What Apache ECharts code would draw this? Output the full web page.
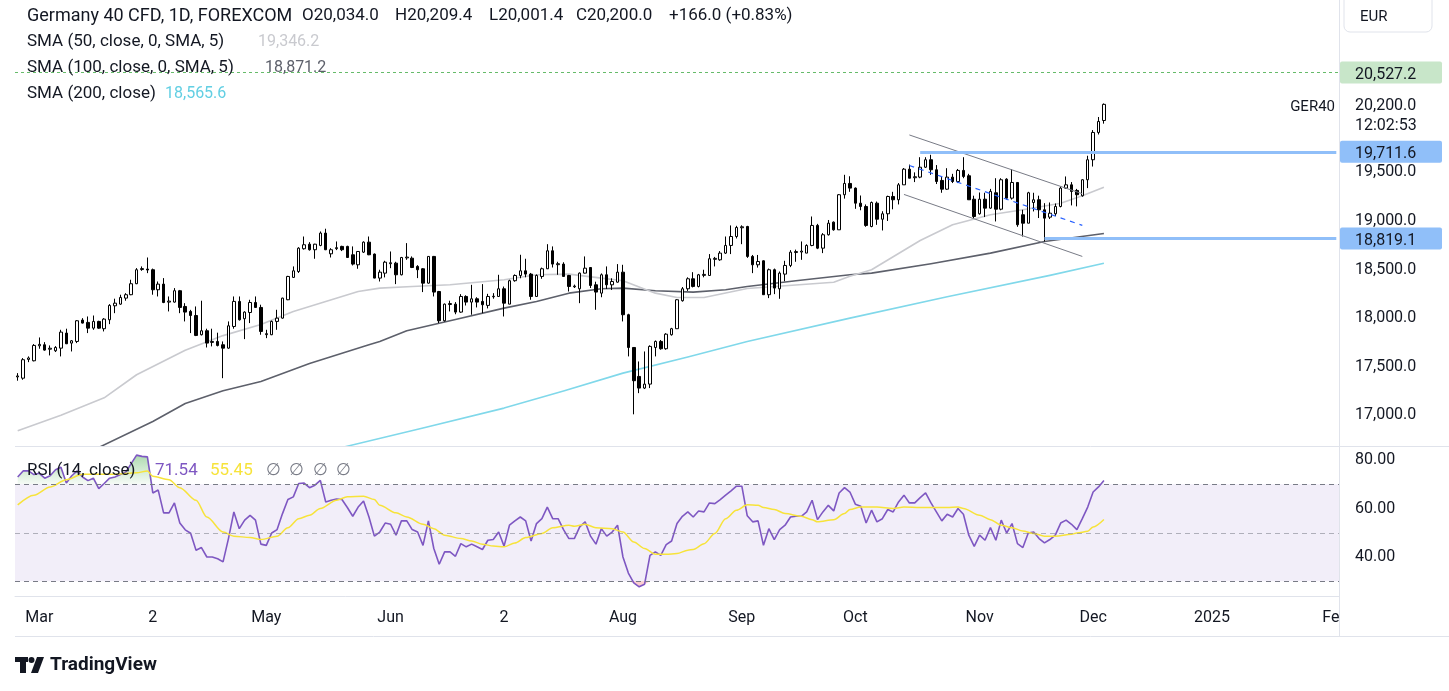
<!DOCTYPE html>
<html>
<head>
<meta charset="utf-8">
<script src="https://cdn.jsdelivr.net/npm/echarts/dist/echarts.min.js"></script>
<style>
  html, body { margin: 0; padding: 0; background: #ffffff; }
  #chart { width: 1449px; height: 691px; }
</style>
</head>
<body>
<div id="chart"></div>
<script>
// ---------------- DATA ----------------
// Daily candles, [open, high, low, close], Feb 26 2024 .. Dec 4 2024
const ohlc = [
[17395,17434,17356,17405],[17382,17589,17366,17572],[17575,17606,17547,17590],[17561,17733,17555,17719],
[17715,17801,17685,17730],[17726,17753,17665,17671],[17680,17719,17616,17690],[17664,17712,17651,17698],
[17691,17880,17606,17856],[17846,17891,17733,17736],[17743,17775,17657,17767],[17760,17980,17743,17973],
[17980,18000,17945,17949],[17956,18017,17846,17897],[17897,18027,17880,17966],[17966,17973,17890,17897],
[17891,18000,17863,17990],[17983,18144,17938,18131],[18127,18200,18051,18154],[18144,18241,18137,18213],
[18206,18257,18179,18241],[18241,18395,18236,18354],[18354,18515,18350,18498],[18500,18532,18487,18510],
[18505,18624,18463,18495],[18498,18510,18241,18292],[18292,18377,18223,18350],[18350,18412,18154,18161],
[18165,18223,18069,18175],[18165,18309,18160,18282],[18282,18290,18051,18110],[18120,18154,17966,18062],
[18069,18085,17846,18027],[18027,18120,17815,17822],[17829,18179,17822,17870],[17870,17891,17698,17743],
[17750,17891,17709,17760],[17760,17850,17709,17719],[17726,17760,17382,17691],[17691,17966,17685,17921],
[17914,18223,17891,18172],[18172,18223,17975,17983],[17994,18070,17784,18062],[18058,18189,17949,18161],
[18161,18223,18105,18110],[18110,18138,17829,17863],[17830,17880,17794,17840],[17829,17975,17825,17966],
[17966,18086,17880,18000],[18000,18210,17995,18206],[18189,18435,18185,18429],[18419,18532,18415,18487],
[18480,18730,18465,18720],[18714,18840,18705,18755],[18761,18782,18695,18704],[18704,18765,18611,18761],
[18748,18892,18740,18875],[18875,18920,18700,18704],[18662,18720,18624,18704],[18715,18789,18700,18725],
[18738,18745,18690,18704],[18738,18745,18620,18624],[18652,18738,18542,18556],[18549,18690,18508,18686],
[18679,18790,18670,18782],[18782,18840,18648,18652],[18659,18665,18410,18412],[18412,18498,18377,18473],
[18463,18590,18419,18576],[18560,18686,18514,18570],[18566,18580,18350,18446],[18446,18630,18440,18624],
[18620,18772,18600,18628],[18617,18635,18515,18521],[18532,18545,18412,18498],[18508,18515,18268,18360],
[18360,18635,18355,18635],[18635,18640,18223,18268],[18274,18280,17949,17973],[17973,18150,17965,18144],
[18140,18179,18069,18150],[18144,18165,18040,18062],[18062,18247,18055,18223],[18223,18235,18130,18165],
[18165,18343,18035,18199],[18199,18215,18110,18165],[18172,18350,18051,18138],[18131,18250,18100,18223],
[18220,18257,18200,18225],[18223,18446,18220,18302],[18302,18325,18017,18154],[18144,18395,18144,18385],
[18385,18450,18375,18439],[18439,18652,18410,18487],[18487,18611,18420,18453],[18453,18465,18189,18223],
[18223,18450,18223,18439],[18429,18520,18405,18508],[18508,18761,18505,18693],[18693,18738,18521,18556],
[18550,18580,18446,18560],[18556,18575,18429,18429],[18439,18445,18274,18326],[18322,18345,18310,18330],
[18302,18470,18154,18463],[18463,18635,18460,18514],[18521,18525,18310,18336],[18343,18375,18086,18268],
[18257,18460,18215,18446],[18446,18532,18300,18343],[18343,18410,18290,18377],[18370,18556,18365,18473],
[18473,18549,17966,18035],[18035,18045,17606,17698],[17698,17700,17010,17356],[17400,17554,17228,17280],
[17280,17657,17270,17321],[17321,17720,17280,17709],[17698,17770,17606,17760],[17760,17775,17675,17685],
[17685,17845,17675,17835],[17829,17900,17820,17891],[17891,18195,17891,18189],[18179,18320,18170,18302],
[18302,18420,18280,18405],[18405,18473,18316,18326],[18326,18455,18316,18446],[18440,18498,18420,18450],
[18439,18659,18439,18611],[18605,18630,18532,18615],[18600,18690,18590,18669],[18669,18840,18660,18748],
[18748,18954,18659,18840],[18840,18950,18820,18933],[18930,18955,18761,18940],[18943,18950,18620,18635],
[18635,18650,18463,18549],[18549,18650,18520,18583],[18590,18595,18241,18241],[18241,18510,18206,18498],
[18498,18510,18247,18309],[18302,18480,18199,18463],[18453,18590,18380,18542],[18542,18700,18525,18679],
[18675,18705,18580,18685],[18680,18789,18600,18690],[18669,18760,18669,18748],[18748,19046,18740,18954],
[18954,18970,18710,18720],[18720,18875,18669,18858],[18858,19010,18850,18977],[18988,18995,18900,18909],
[18909,19277,18909,19270],[19270,19475,19230,19386],[19386,19460,19300,19338],[19338,19345,19125,19183],
[19183,19262,19110,19149],[19149,19170,18940,18954],[18943,19200,18935,19190],[19183,19200,18960,19018],
[19018,19100,18902,19074],[19074,19260,19000,19252],[19252,19300,19120,19218],[19218,19390,19170,19372],
[19372,19545,19372,19533],[19533,19580,19440,19440],[19445,19500,19400,19455],[19451,19656,19440,19553],
[19553,19656,19545,19630],[19630,19681,19475,19527],[19527,19575,19380,19406],[19417,19460,19290,19327],
[19327,19543,19320,19451],[19451,19485,19390,19406],[19406,19535,19390,19520],[19520,19656,19440,19458],
[19465,19485,19218,19218],[19224,19260,19029,19046],[19074,19293,19065,19224],[19224,19290,19040,19132],
[19132,19330,19125,19304],[19290,19440,18995,19121],[19121,19440,19110,19424],[19430,19440,19220,19235],
[19235,19533,19220,19396],[19396,19400,18940,18961],[19064,19115,18840,18977],[18977,19300,18977,19290],
[19190,19290,19098,19218],[19218,19260,19030,19115],[19115,19183,18789,19029],[19039,19190,19020,19080],
[19074,19180,19050,19149],[19149,19355,19140,19338],[19338,19458,19330,19372],[19372,19400,19160,19304],
[19314,19330,19150,19270],[19259,19430,19250,19424],[19424,19671,19338,19630],[19630,19935,19560,19911],
[19911,20070,19890,20024],[20034,20209.4,20001.4,20200]
];

// RSI(14) per bar
const rsi = [
73,75.5,75.5,74,74.5,72.5,73.5,76,77,70.5,73.5,75.5,73,71.5,72.5,68.2,70.3,72.5,73,74,
75,78.5,82,81.5,81.3,66.4,67.6,58.2,58.2,62.3,54,51.2,49.8,42.8,43.9,40,40,39.3,38,47.6,
58.6,51.7,55.2,57.2,55.2,45.3,44.8,49.9,51.3,57.9,63.7,64.8,70.3,70.5,68.6,69.6,71.6,62.7,63.4,63.9,
63.7,60.4,56.8,60.6,63.1,56.5,48.6,50.3,54,53.5,49,54.9,54.9,51.3,50.3,44.8,54.9,43.5,37,42.1,
42.1,40.3,45.5,44.2,45.3,44.2,43.1,46.9,47.2,50.3,44.5,53.1,54.9,56.5,54.9,46.6,53.8,55.8,60.6,55.8,
55.8,51.3,47.6,47.6,52.4,54.5,48.6,45.3,51.7,48.6,50.3,53.1,40,33.4,29.3,27.7,28.8,40.7,42.1,40.7,
45.1,46.6,53.8,56.8,58.6,56.5,59,58.6,62.3,62,63.7,65.5,67.3,69.2,69.2,57,54.5,54.9,44.8,51.7,
47.2,51.3,53.1,56.5,56.8,56.8,58.6,63.4,55.4,58.6,61.3,59,66.4,68.6,66.8,61.8,60.9,54,59.3,54.5,
55.8,59.6,58.6,62.7,65.5,62.3,62.3,64.5,66.4,62.3,58.6,54.9,57.6,56.5,60,57.6,49,44.4,49,46.9,
52.1,46.9,55.2,49.9,53.8,45.5,43.9,49.9,50.3,47.6,45.8,47.2,49,54,55.2,53.5,51.3,55.8,60.6,66.8,
68.9,71.54
];

// RSI-based MA, read at [bar, value]
const rsiMA = [[0,61.5],[3,65.5],[6,68.9],[9,71.9],[12,74.1],[16,74.1],[18,74.1],[22,74.7],[24,75.5],[25,73.3],
[28,71.9],[30,68.6],[33,63.4],[35,56.5],[38,50.3],[40,48.6],[43,48],[45,47.2],[48,48.6],[50,52.1],[52,55.8],
[54,57.2],[56,60],[59,63.4],[61,64.8],[64,65.1],[66,63.7],[67,61.3],[70,58.2],[72,56.5],[75,53.5],[77,51.7],
[79,49],[82,47.6],[84,46.6],[86,45.3],[88,44.5],[90,44.2],[92,45.8],[94,48],[97,49.7],[99,52.1],[102,53.1],
[103,52.7],[105,53.5],[107,52.1],[110,51.7],[112,50.3],[114,46.2],[116,43.5],[118,41.1],[120,41.1],[122,41.4],
[124,42.8],[125,43.1],[127,45.5],[129,49.7],[131,55.8],[133,59.3],[135,61.5],[137,61.3],[138,60.4],[140,59.6],
[142,57.9],[145,56.8],[147,55.4],[148,54.5],[151,55.4],[153,57.9],[154,59.6],[156,60.6],[159,60.6],[162,60],
[164,60.6],[167,60.4],[169,60.4],[172,60.4],[174,60.6],[175,60],[178,57.2],[180,55.4],[182,53.1],[184,52.1],
[186,50.7],[188,49.7],[190,48.6],[192,48.6],[195,49.4],[196,49.9],[198,50.6],[199,52.4],[201,55.45]];

// Moving averages, read at [bar, value]
const sma50 = [[0,16840],[8,17000],[16,17180],[22,17417],[31,17670],[38,17820],[45,17935],[51,18069],[57,18172],
[63,18274],[67,18309],[73,18326],[80,18343],[90,18395],[96,18446],[102,18453],[108,18412],[112,18385],[118,18257],
[122,18213],[127,18213],[135,18305],[151,18370],[154,18430],[158,18498],[167,18799],[173,18961],[180,19064],
[186,19115],[193,19183],[197,19259],[201,19346.2]];
const sma100 = [[15,16669],[25,16936],[31,17122],[38,17253],[45,17348],[54,17534],[65,17726],[67,17760],[72,17870],
[81,17986],[90,18103],[96,18172],[102,18257],[108,18302],[112,18309],[118,18282],[125,18268],[131,18292],[135,18326],
[144,18385],[154,18446],[158,18463],[169,18560],[180,18669],[190,18789],[201,18871.2]];
const sma200 = [[60,16669],[75,16870],[90,17074],[101,17250],[112,17434],[124,17600],[135,17760],[154,18000],
[172,18220],[191,18440],[201,18565.6]];

// Drawings: [startBar, startPrice, endBar, endPrice]
const channelUpper = [165, 19885, 197, 19280];
const channelLower = [164, 19273, 197, 18635];
const channelMid = [165, 19571, 197, 18954];
const resistance = [167, 19711.6];
const support = [190, 18819.1];
const alertLevel = 20527.2;
const lastPrice = 20200.0;

// Axis labels
const monthTicks = [[4,'Mar'],[25,'2'],[46,'May'],[69,'Jun'],[90,'2'],[112,'Aug'],[134,'Sep'],[155,'Oct'],
[178,'Nov'],[199,'Dec'],[221,'2025'],[243,'Fe']];
const priceTicks = [17000, 17500, 18000, 18500, 19000, 19500];
const rsiTicks = [40, 60, 80];
const SLOT_COUNT = 245; // visible bar slots incl. empty future area
const barSlots = Array.from({length: SLOT_COUNT}, (_, i) => String(i));

// ---------------- CHART ----------------
const FONT = 'Roboto, "Noto Sans", Arial, sans-serif';
const TXT = '#131722';
const chart = echarts.init(document.getElementById('chart'));

const tickMap = new Map(monthTicks);
const candleData = ohlc.map(r => [r[0], r[3], r[2], r[1]]);
const obBase = rsi.map(() => 70);
const obTop = rsi.map(v => Math.max(v, 70) - 70);
const osBase = rsi.map(v => Math.min(v, 30));
const osTop = rsi.map(v => 30 - Math.min(v, 30));
const lastIdx = SLOT_COUNT - 1;
const fmtPrice = v => v.toLocaleString('en-US', {minimumFractionDigits: 1, maximumFractionDigits: 1});

const seg = (a, style) => [{coord: [a[0], a[1]], lineStyle: style}, {coord: [a[2], a[3]]}];
const maLine = (name, data, color, width) => ({
  name, type: 'line', xAxisIndex: 0, yAxisIndex: 0, data, symbol: 'none',
  lineStyle: {color, width, join: 'round'}, z: 2, silent: true
});

const option = {
  animation: false,
  backgroundColor: '#ffffff',
  grid: [
    {left: 15, right: 110, top: 0, height: 446},
    {left: 15, right: 110, top: 447, height: 149}
  ],
  xAxis: [
    {type: 'category', gridIndex: 0, data: barSlots, boundaryGap: true, show: false},
    {type: 'category', gridIndex: 1, data: barSlots, boundaryGap: true,
      axisLine: {show: true, lineStyle: {color: '#e0e3eb'}},
      axisTick: {show: false},
      axisLabel: {
        show: true, color: TXT, fontSize: 16, fontFamily: FONT, margin: 14,
        interval: (idx) => tickMap.has(idx),
        formatter: (v) => tickMap.get(Number(v)) || ''
      },
      splitLine: {show: false}
    }
  ],
  yAxis: [
    {type: 'value', gridIndex: 0, position: 'right', min: 16684, max: 21274,
      axisLine: {show: false}, axisTick: {show: false}, splitLine: {show: false},
      axisLabel: {customValues: priceTicks, color: TXT, fontSize: 16, fontFamily: FONT, margin: 16,
        padding: [6, 0, 0, 0], formatter: v => fmtPrice(v)}
    },
    {type: 'value', gridIndex: 1, position: 'right', min: 23.92, max: 85.36,
      axisLine: {show: false}, axisTick: {show: false}, splitLine: {show: false},
      axisLabel: {customValues: rsiTicks, color: TXT, fontSize: 16, fontFamily: FONT, margin: 16,
        padding: [7, 0, 0, 0], formatter: v => v.toFixed(2)}
    }
  ],
  series: [
    maLine('SMA200', sma200, '#80d8ea', 1.6),
    maLine('SMA100', sma100, '#5d606b', 1.6),
    maLine('SMA50', sma50, '#c9cacf', 1.6),
    {
      name: 'GER40', type: 'candlestick', xAxisIndex: 0, yAxisIndex: 0, data: candleData,
      barWidth: 3, z: 3,
      itemStyle: {color: '#ffffff', color0: '#000000', borderColor: '#000000', borderColor0: '#000000', borderWidth: 1},
      markLine: {
        silent: true, symbol: ['none', 'none'], label: {show: false}, z: 4,
        data: [
          {yAxis: alertLevel, lineStyle: {color: '#66bb6a', width: 1, type: [3, 3]}},
          seg(channelUpper, {color: '#787b86', width: 1, type: 'solid'}),
          seg(channelLower, {color: '#787b86', width: 1, type: 'solid'}),
          seg(channelMid, {color: '#2962ff', width: 1.2, type: [5, 5]}),
          [{coord: [resistance[0], resistance[1]], lineStyle: {color: '#90bff9', width: 3, type: 'solid'}}, {coord: [lastIdx, resistance[1]]}],
          [{coord: [support[0], support[1]], lineStyle: {color: '#90bff9', width: 3, type: 'solid'}}, {coord: [lastIdx, support[1]]}]
        ]
      }
    },
    // RSI pane
    {
      name: 'obBase', type: 'line', xAxisIndex: 1, yAxisIndex: 1, data: obBase, stack: 'ob', symbol: 'none',
      lineStyle: {opacity: 0}, silent: true, z: 1
    },
    {
      name: 'obTop', type: 'line', xAxisIndex: 1, yAxisIndex: 1, data: obTop, stack: 'ob', symbol: 'none',
      lineStyle: {opacity: 0}, silent: true, z: 1,
      areaStyle: {color: new echarts.graphic.LinearGradient(0, 0, 0, 1, [
        {offset: 0, color: 'rgba(76,175,80,0.45)'}, {offset: 1, color: 'rgba(76,175,80,0.05)'}]), opacity: 1}
    },
    {
      name: 'osBase', type: 'line', xAxisIndex: 1, yAxisIndex: 1, data: osBase, stack: 'os', symbol: 'none',
      lineStyle: {opacity: 0}, silent: true, z: 1
    },
    {
      name: 'osTop', type: 'line', xAxisIndex: 1, yAxisIndex: 1, data: osTop, stack: 'os', symbol: 'none',
      lineStyle: {opacity: 0}, silent: true, z: 1,
      areaStyle: {color: 'rgba(242,54,69,0.25)', opacity: 1}
    },
    {
      name: 'RSI', type: 'line', xAxisIndex: 1, yAxisIndex: 1, data: rsi, symbol: 'none', z: 3,
      lineStyle: {color: '#7e57c2', width: 1.6}, silent: true,
      markArea: {silent: true, itemStyle: {color: 'rgba(126,87,194,0.10)'}, data: [[{yAxis: 30}, {yAxis: 70}]]},
      markLine: {
        silent: true, symbol: ['none', 'none'], label: {show: false},
        data: [
          {yAxis: 70, lineStyle: {color: '#787b86', width: 1, type: [5, 4]}},
          {yAxis: 50, lineStyle: {color: 'rgba(120,123,134,0.55)', width: 1, type: [5, 4]}},
          {yAxis: 30, lineStyle: {color: '#787b86', width: 1, type: [5, 4]}}
        ]
      }
    },
    {
      name: 'RSI MA', type: 'line', xAxisIndex: 1, yAxisIndex: 1, data: rsiMA, symbol: 'none', z: 3,
      smooth: 0.3, smoothMonotone: 'x',
      lineStyle: {color: '#f7e33a', width: 1.5}, silent: true
    }
  ]
};
chart.setOption(option);

// ---------------- Overlays (text, price-scale labels) ----------------
const py = v => chart.convertToPixel({yAxisIndex: 0}, v);
const DY = 2;
const txt = (x, y, text, fill, size, extra) => ({
  type: 'text', x, y: y + DY, silent: true, z: 100,
  style: Object.assign({text, fill, fontSize: size || 16, fontFamily: FONT, verticalAlign: 'middle', align: 'left'}, extra || {})
});
const box = (yv, text, bg, fg) => {
  const y = py(yv);
  return [
    {type: 'rect', shape: {x: 1340, y: y - 11, width: 102, height: 22, r: 2}, style: {fill: bg}, silent: true, z: 90},
    txt(1355, y, text, fg, 16)
  ];
};

const g = [];
// pane separators & scale border
g.push({type: 'line', shape: {x1: 1339.5, y1: 0, x2: 1339.5, y2: 636}, style: {stroke: '#e0e3eb', lineWidth: 1}, silent: true, z: 80});
g.push({type: 'line', shape: {x1: 15, y1: 446.5, x2: 1449, y2: 446.5}, style: {stroke: '#e0e3eb', lineWidth: 1}, silent: true, z: 80});
g.push({type: 'line', shape: {x1: 15, y1: 636.5, x2: 1449, y2: 636.5}, style: {stroke: '#e0e3eb', lineWidth: 1}, silent: true, z: 80});

// header legend
g.push(txt(27, 14, 'Germany 40 CFD, 1D, FOREXCOM', TXT, 18));
[['O', '20,034.0', 302], ['H', '20,209.4', 395], ['L', '20,001.4', 489], ['C', '20,200.0', 576]].forEach(p => {
  g.push(txt(p[2], 14, p[0] + p[1], TXT, 17));
});
g.push(txt(669, 14, '+166.0 (+0.83%)', TXT, 17));
g.push(txt(27, 40, 'SMA (50, close, 0, SMA, 5)', TXT, 17));
g.push(txt(258, 40, '19,346.2', '#c9cacf', 16));
g.push(txt(27, 66, 'SMA (100, close, 0, SMA, 5)', TXT, 17));
g.push(txt(265, 66, '18,871.2', '#5d606b', 16));
g.push(txt(27, 92, 'SMA (200, close)', TXT, 17));
g.push(txt(165, 92, '18,565.6', '#62cfe3', 16));
g.push(txt(27, 469, 'RSI (14, close)', TXT, 17));
g.push(txt(155, 469, '71.54', '#7e57c2', 17));
g.push(txt(210, 469, '55.45', '#f7e33a', 17));
g.push(txt(266, 469, '\u2205  \u2205  \u2205  \u2205', '#787b86', 17));

// price scale labels
g.push({type: 'rect', shape: {x: 1344, y: -6, width: 88, height: 38, r: 6}, style: {fill: '#fff', stroke: '#e0e3eb', lineWidth: 1}, silent: true, z: 90});
g.push(txt(1360, 15, 'EUR', TXT, 15));
box(alertLevel, fmtPrice(alertLevel), '#c8e6c9', TXT).forEach(e => g.push(e));
box(resistance[1], fmtPrice(resistance[1]), '#90bff9', TXT).forEach(e => g.push(e));
box(support[1], fmtPrice(support[1]), '#90bff9', TXT).forEach(e => g.push(e));
const lpY = py(lastPrice);
g.push(txt(1355, lpY, fmtPrice(lastPrice), TXT, 16));
g.push(txt(1355, lpY + 20, '12:02:53', TXT, 16));
g.push(txt(1335, lpY + 1, 'GER40', TXT, 15, {align: 'right'}));

// TradingView watermark
g.push({type: 'rect', shape: {x: 15, y: 657, width: 13, height: 5}, style: {fill: TXT}, silent: true, z: 100});
g.push({type: 'rect', shape: {x: 20, y: 657, width: 6, height: 16}, style: {fill: TXT}, silent: true, z: 100});
g.push({type: 'circle', shape: {cx: 31.5, cy: 660, r: 3}, style: {fill: TXT}, silent: true, z: 100});
g.push({type: 'polygon', shape: {points: [[37, 657], [44, 657], [38, 673], [31, 673]]}, style: {fill: TXT}, silent: true, z: 100});
g.push(txt(50, 663, 'TradingView', TXT, 19, {fontWeight: 'bold'}));

chart.setOption({graphic: {elements: g}});
</script>
</body>
</html>
